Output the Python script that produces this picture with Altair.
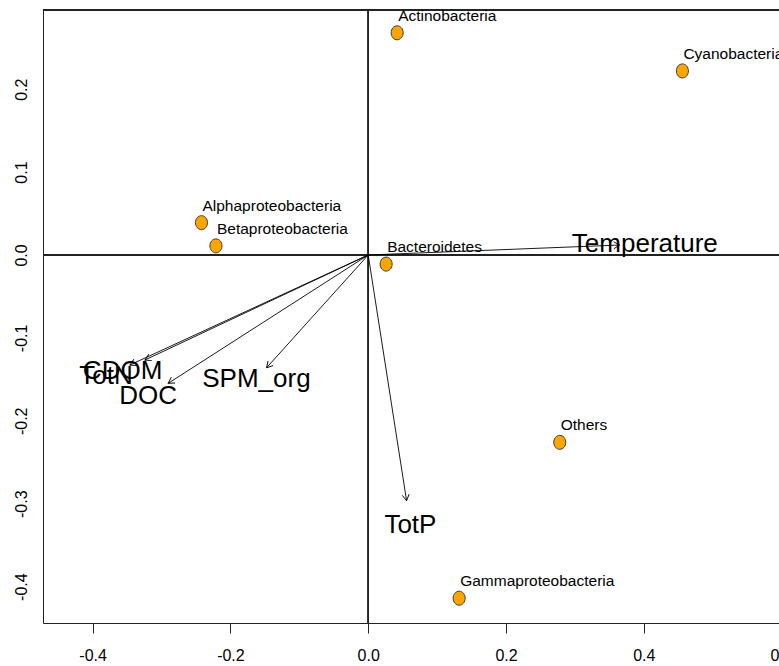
import math
import altair as alt
import pandas as pd

# ---- data ----
species = ["Actinobacteria", "Cyanobacteria", "Alphaproteobacteria", "Betaproteobacteria",
           "Bacteroidetes", "Others", "Gammaproteobacteria"]
sp_x = [0.042, 0.456, -0.242, -0.221, 0.026, 0.278, 0.132]
sp_y = [0.268, 0.222, 0.039, 0.011, -0.011, -0.226, -0.414]

env = ["Temperature", "TotP", "SPM_org", "DOC", "CDOM", "TotN"]
env_x = [0.365, 0.0557, -0.1475, -0.2903, -0.3241, -0.3459]
env_y = [0.012, -0.2964, -0.136, -0.1548, -0.1267, -0.1327]

x_ticks = [-0.4, -0.2, 0.0, 0.2, 0.4]
y_ticks = [-0.4, -0.3, -0.2, -0.1, 0.0, 0.1, 0.2]
x_edge_tick = [0.6]

X_DOM = [-0.472, 0.5962]
Y_DOM = [-0.4439, 0.2955]
W, H = 736, 613
FONT = "Liberation Sans"

kx = W / (X_DOM[1] - X_DOM[0])
ky = H / (Y_DOM[1] - Y_DOM[0])

sp_df = pd.DataFrame({"name": species, "x": sp_x, "y": sp_y})
env_df = pd.DataFrame({"name": env, "x": env_x, "y": env_y})
env_df["x0"] = 0.0
env_df["y0"] = 0.0
env_df["lx"] = env_df["x"] * 1.1
env_df["ly"] = env_df["y"] * 1.1
env_df["ang"] = [math.degrees(math.atan2(-yy * ky, xx * kx)) % 360 for xx, yy in zip(env_x, env_y)]

xs = alt.Scale(domain=X_DOM, nice=False, zero=False)
ys = alt.Scale(domain=Y_DOM, nice=False, zero=False)

LABEL_EXPR = "(datum.value < 0 ? '-' : '') + format(abs(datum.value), '.1f')"

x_axis = alt.Axis(values=x_ticks, title=None, grid=False, tickSize=10, labelPadding=14,
                  labelFontSize=16, labelFont=FONT, labelColor="black",
                  domainColor="#222", tickColor="#222", labelExpr=LABEL_EXPR)
y_axis = alt.Axis(values=y_ticks, title=None, grid=False, ticks=False, labelPadding=14,
                  labelAngle=270, labelAlign="center", labelBaseline="bottom",
                  labelFontSize=16, labelFont=FONT, labelColor="black",
                  domainColor="#222", labelExpr=LABEL_EXPR)

base_sp = alt.Chart(sp_df)
base_env = alt.Chart(env_df)

frame_top = alt.Chart(sp_df).mark_rule(color="#222", strokeWidth=1).encode(
    x=alt.value(0), x2=alt.value(W), y=alt.value(0))

hline = alt.Chart(sp_df).mark_rule(color="#222", strokeWidth=1).encode(
    y=alt.YDatum(0, scale=ys, axis=y_axis))
vline = alt.Chart(sp_df).mark_rule(color="#222", strokeWidth=1).encode(
    x=alt.XDatum(0, scale=xs, axis=x_axis))

arrows = base_env.mark_rule(color="black", strokeWidth=0.9).encode(
    x=alt.X("x0:Q", scale=xs, axis=x_axis), y=alt.Y("y0:Q", scale=ys, axis=y_axis),
    x2="x:Q", y2="y:Q")

heads = base_env.mark_point(shape="M -1 -0.58 L 0 0 L -1 0.58", filled=False,
                            color="black", strokeWidth=0.9, size=144, opacity=1).encode(
    x=alt.X("x:Q", scale=xs), y=alt.Y("y:Q", scale=ys),
    angle=alt.Angle("ang:Q", scale=None))

env_labels = base_env.mark_text(fontSize=26, font=FONT, align="center", baseline="middle",
                                color="black").encode(
    x=alt.X("lx:Q", scale=xs), y=alt.Y("ly:Q", scale=ys), text="name:N")

points = base_sp.mark_point(
    shape="M -0.86 0 A 0.86 1 0 1 0 0.86 0 A 0.86 1 0 1 0 -0.86 0 Z",
    filled=True, fill="#FFA500", stroke="#3a3a3a", strokeWidth=1, size=196, opacity=1).encode(
    x=alt.X("x:Q", scale=xs), y=alt.Y("y:Q", scale=ys))

sp_labels = base_sp.mark_text(fontSize=15.5, font=FONT, align="left", baseline="middle",
                              dx=1, dy=-17, color="black").encode(
    x=alt.X("x:Q", scale=xs), y=alt.Y("y:Q", scale=ys), text="name:N")

edge_df = pd.DataFrame({"v": x_edge_tick, "t": ["0.6"]})
edge_label = alt.Chart(edge_df).mark_text(fontSize=16, font=FONT, align="center",
                                          baseline="middle", color="black").encode(
    x=alt.X("v:Q", scale=xs), y=alt.value(H + 33), text="t:N")

chart = alt.layer(
    frame_top, hline, vline, arrows, heads, points, sp_labels, env_labels, edge_label
).properties(
    width=W, height=H,
    padding={"left": 43, "top": 10, "right": 0, "bottom": 43},
    autosize=alt.AutoSizeParams(type="none"),
    background="white",
).configure_view(stroke=None)

chart.save("out.html", embed_options={"renderer": "svg", "actions": False})
